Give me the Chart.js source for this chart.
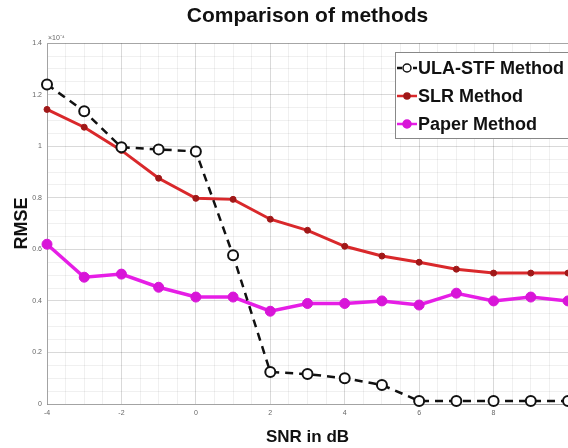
<!DOCTYPE html>
<html>
<head>
<meta charset="utf-8">
<title>Comparison of methods</title>
<script src="https://cdn.jsdelivr.net/npm/chart.js@4.4.1/dist/chart.umd.min.js"></script>
<style>
    html, body { margin: 0; padding: 0; background: #fff; }
    #wrap { position: relative; width: 568px; height: 448px; }
</style>
</head>
<body>
<div id="wrap"><canvas id="rmseChart" width="568" height="448"></canvas></div>
<script>
// RMSE vs SNR - values in units of 1e-4
const snrValues = [-4, -3, -2, -1, 0, 1, 2, 3, 4, 5, 6, 7, 8, 9, 10];
const ulaStf = [1.24, 1.136, 0.996, 0.988, 0.98, 0.577, 0.124, 0.116, 0.10, 0.074, 0.012, 0.012, 0.012, 0.012, 0.012];
const slr = [1.143, 1.074, 0.984, 0.876, 0.798, 0.794, 0.717, 0.674, 0.612, 0.574, 0.55, 0.523, 0.508, 0.508, 0.508];
const paper = [0.62, 0.492, 0.504, 0.453, 0.415, 0.415, 0.36, 0.39, 0.39, 0.40, 0.384, 0.43, 0.40, 0.415, 0.40];
const seriesNames = ['ULA-STF Method', 'SLR Method', 'Paper Method'];
const xTickLabels = ['-4', '-2', '0', '2', '4', '6', '8'];
const yTickLabels = ['0', '0.2', '0.4', '0.6', '0.8', '1', '1.2', '1.4'];

const FONT = '"Liberation Sans", Arial, sans-serif';

function toPoints(values) {
    return snrValues.map((x, i) => ({ x: x, y: values[i] }));
}

// MATLAB style legend box in the top right corner, plus the axis exponent
const extrasPlugin = {
    id: 'extras',
    afterDraw(chart) {
        const ctx = chart.ctx;
        const area = chart.chartArea;
        ctx.save();

        // exponent label
        ctx.fillStyle = '#666';
        ctx.font = '7px ' + FONT;
        ctx.textBaseline = 'alphabetic';
        ctx.textAlign = 'left';
        ctx.fillText('\u00d710\u207b\u2074', area.left + 1, area.top - 3);

        // legend box
        const boxX = 395, boxY = 52, boxW = 190, boxH = 86;
        ctx.fillStyle = '#fff';
        ctx.fillRect(boxX, boxY, boxW, boxH);
        ctx.strokeStyle = '#888';
        ctx.lineWidth = 1;
        ctx.strokeRect(boxX + 0.5, boxY + 0.5, boxW, boxH);

        chart.data.datasets.forEach((ds, i) => {
            const cy = boxY + 16 + i * 28;
            ctx.strokeStyle = ds.borderColor;
            ctx.lineWidth = 2.5;
            ctx.setLineDash(ds.borderDash ? [5, 3] : []);
            ctx.beginPath();
            ctx.moveTo(boxX + 2, cy);
            ctx.lineTo(boxX + 22, cy);
            ctx.stroke();
            ctx.setLineDash([]);
            ctx.beginPath();
            ctx.arc(boxX + 12, cy, Math.min(ds.pointRadius, 4), 0, Math.PI * 2);
            ctx.fillStyle = ds.pointBackgroundColor;
            ctx.fill();
            ctx.lineWidth = 1.5;
            ctx.strokeStyle = ds.pointBorderColor;
            ctx.stroke();

            ctx.fillStyle = '#111';
            ctx.font = 'bold 18px ' + FONT;
            ctx.textBaseline = 'middle';
            ctx.fillText(ds.label, boxX + 23, cy + 1);
        });
        ctx.restore();
    }
};

const ctx = document.getElementById('rmseChart');
const chart = new Chart(ctx, {
    type: 'line',
    data: {
        datasets: [
            {
                label: seriesNames[0],
                data: toPoints(ulaStf),
                borderColor: '#111',
                borderWidth: 2.5,
                borderDash: [8, 6],
                pointRadius: 5,
                pointBorderWidth: 2,
                pointBackgroundColor: '#fff',
                pointBorderColor: '#111',
                tension: 0
            },
            {
                label: seriesNames[1],
                data: toPoints(slr),
                borderColor: '#d9282b',
                borderWidth: 3,
                pointRadius: 3,
                pointBorderWidth: 1,
                pointBackgroundColor: '#a01818',
                pointBorderColor: '#a01818',
                tension: 0
            },
            {
                label: seriesNames[2],
                data: toPoints(paper),
                borderColor: '#e61ee6',
                borderWidth: 3.5,
                pointRadius: 5,
                pointBorderWidth: 1,
                pointBackgroundColor: '#d815d8',
                pointBorderColor: '#d815d8',
                tension: 0
            }
        ]
    },
    options: {
        responsive: false,
        animation: false,
        clip: false,
        layout: { autoPadding: false, padding: 0 },
        plugins: {
            legend: { display: false },
            tooltip: { enabled: false },
            title: {
                display: true,
                fullSize: false,
                text: 'Comparison of methods',
                color: '#111',
                font: { family: FONT, size: 21, weight: 'bold', lineHeight: 1.2 },
                padding: { top: 4, bottom: 14 }
            }
        },
        scales: {
            x: {
                type: 'linear',
                min: -4,
                max: 10,
                afterFit: (scale) => {
                    scale.height = 44;
                    scale.paddingRight = 0;
                    scale.paddingLeft = 0;
                },
                ticks: {
                    stepSize: 0.5,
                    autoSkip: false,
                    maxRotation: 0,
                    color: '#666',
                    font: { family: FONT, size: 7 },
                    padding: 5,
                    callback: (v) => {
                        const idx = xTickLabels.indexOf(String(v));
                        return idx >= 0 ? xTickLabels[idx] : '';
                    }
                },
                grid: {
                    drawTicks: false,
                    color: (c) => (c.tick && c.tick.value % 2 === 0) ? 'rgba(0,0,0,0.15)' : 'rgba(0,0,0,0.06)'
                },
                border: { color: 'rgba(0,0,0,0.25)' },
                title: {
                    display: true,
                    text: 'SNR in dB',
                    color: '#111',
                    font: { family: FONT, size: 17, weight: 'bold' },
                    padding: { top: 5, bottom: 0 }
                }
            },
            y: {
                min: 0,
                max: 1.4,
                afterFit: (scale) => { scale.width = 47; },
                ticks: {
                    stepSize: 0.05,
                    autoSkip: false,
                    color: '#666',
                    font: { family: FONT, size: 7 },
                    padding: 5,
                    callback: (v) => {
                        const k = Math.round(v * 100);
                        return k % 20 === 0 ? yTickLabels[k / 20] : '';
                    }
                },
                grid: {
                    drawTicks: false,
                    color: (c) => {
                        if (!c.tick) return 'rgba(0,0,0,0.06)';
                        const k = Math.round(c.tick.value * 100);
                        if (k === 140) return 'rgba(0,0,0,0.35)';
                        return k % 20 === 0 ? 'rgba(0,0,0,0.15)' : 'rgba(0,0,0,0.06)';
                    }
                },
                border: { color: 'rgba(0,0,0,0.25)' },
                title: {
                    display: true,
                    text: 'RMSE',
                    color: '#111',
                    font: { family: FONT, size: 18, weight: 'bold' },
                    padding: { top: 11, bottom: 2 }
                }
            }
        }
    },
    plugins: [extrasPlugin]
});
</script>
</body>
</html>
